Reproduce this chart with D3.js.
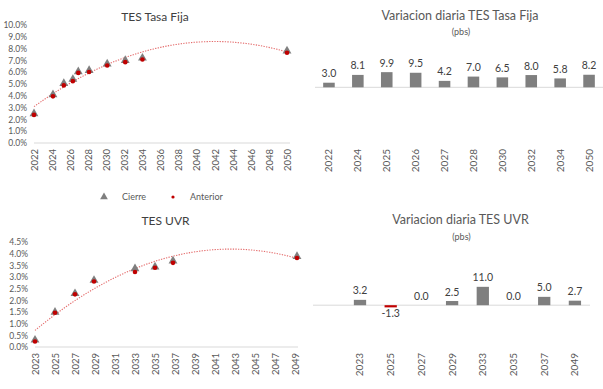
<!DOCTYPE html>
<html>
<head>
<meta charset="utf-8">
<script src="https://cdn.jsdelivr.net/npm/d3@7"></script>
<style>
  body { margin: 0; background: #fff; }
  svg { display: block; }
</style>
</head>
<body>
<svg width="603" height="389"></svg>
<script>
// TES Tasa Fija - curva (anos al vencimiento, tasa %)
const tfYears = [2022.0, 2024.1, 2025.3, 2026.3, 2026.9, 2028.1, 2030.1, 2032.1, 2034.0, 2050.0];
const tfCierre = [2.48, 4.10, 5.05, 5.40, 6.05, 6.15, 6.70, 7.00, 7.20, 7.80];
const tfAnterior = [2.45, 4.02, 4.95, 5.31, 6.01, 6.08, 6.64, 6.92, 7.14, 7.72];
const tfTicksX = d3.range(2022, 2051, 2);
const tfTicksY = d3.range(0, 10.1, 1);

// TES UVR - curva
const uvrYears = [2023.0, 2025.0, 2027.0, 2028.9, 2033.0, 2035.0, 2036.8, 2049.2];
const uvrCierre = [0.30, 1.49, 2.29, 2.86, 3.36, 3.43, 3.69, 3.88];
const uvrAnterior = [0.27, 1.50, 2.29, 2.84, 3.25, 3.43, 3.64, 3.85];
const uvrTicksX = d3.range(2023, 2050, 2);
const uvrTicksY = d3.range(0, 4.51, 0.5);

// variacion diaria (pbs)
const tfCats = ['2022', '2024', '2025', '2026', '2027', '2028', '2030', '2032', '2034', '2050'];
const tfVar = [3.0, 8.1, 9.9, 9.5, 4.2, 7.0, 6.5, 8.0, 5.8, 8.2];
const uvrCats = ['2023', '2025', '2027', '2029', '2033', '2035', '2037', '2049'];
const uvrVar = [3.2, -1.3, 0.0, 2.5, 11.0, 0.0, 5.0, 2.7];

const svg = d3.select('svg');
const fontL = 'Lato, "Open Sans", sans-serif';
const fontR = 'Lato, "Noto Sans", sans-serif';
const grey = '#7f7f7f';
const red = '#c00000';

// least squares polynomial of order 2 (Excel style trendline)
function polyFit(xs, ys) {
  const x0 = d3.mean(xs);
  const u = xs.map((v) => v - x0);
  const S = (p) => d3.sum(u, (v) => Math.pow(v, p));
  const T = (p) => d3.sum(u, (v, i) => Math.pow(v, p) * ys[i]);
  const A = [
    [u.length, S(1), S(2), T(0)],
    [S(1), S(2), S(3), T(1)],
    [S(2), S(3), S(4), T(2)]
  ];
  for (let i = 0; i < 3; i++) {
    for (let j = i + 1; j < 3; j++) {
      const f = A[j][i] / A[i][i];
      for (let k = i; k < 4; k++) A[j][k] -= f * A[i][k];
    }
  }
  const c = [0, 0, 0];
  for (let i = 2; i >= 0; i--) {
    let s = A[i][3];
    for (let k = i + 1; k < 3; k++) s -= A[i][k] * c[k];
    c[i] = s / A[i][i];
  }
  return (x) => c[0] + c[1] * (x - x0) + c[2] * (x - x0) * (x - x0);
}

function curveChart(opt) {
  const x = d3.scaleLinear().domain(opt.xDomain).range(opt.xRange);
  const y = d3.scaleLinear().domain(opt.yDomain).range(opt.yRange);
  const g = svg.append('g');

  g.append('text')
    .attr('x', opt.titleX).attr('y', opt.titleY)
    .attr('text-anchor', 'middle')
    .attr('font-family', fontL).attr('font-size', 12)
    .attr('fill', '#404040')
    .text(opt.title);

  // y labels
  g.append('g')
    .attr('transform', `translate(${opt.xRange[0]},0)`)
    .call(d3.axisLeft(y).tickValues(opt.yTicks).tickFormat((d) => d.toFixed(1) + '%').tickSize(0).tickPadding(7))
    .call((a) => a.select('.domain').remove())
    .call((a) => a.selectAll('text').attr('font-family', fontL).attr('font-size', 8.5).attr('fill', '#595959'));

  // x axis
  const xa = g.append('g')
    .attr('transform', `translate(0,${opt.yRange[0]})`)
    .call(d3.axisBottom(x).tickValues(opt.xTicks).tickFormat(d3.format('d')).tickSize(0));
  xa.select('.domain').attr('stroke', '#d9d9d9').attr('d', `M${opt.xRange[0]},0H${opt.xRange[1] + 3}`);
  xa.selectAll('text')
    .attr('font-family', fontL).attr('font-size', 9.5).attr('fill', '#595959')
    .attr('text-anchor', 'end')
    .attr('transform', 'rotate(-90)')
    .attr('x', -6).attr('y', 0).attr('dy', '0.35em');

  // trendline
  const fit = polyFit(opt.years, opt.cierre);
  const tx = d3.range(opt.xDomain[0], opt.xDomain[1] + 0.01, 0.25);
  g.append('path')
    .attr('d', d3.line().x((d) => x(d)).y((d) => y(fit(d)))(tx))
    .attr('fill', 'none')
    .attr('stroke', '#e46c6c')
    .attr('stroke-width', 1.1)
    .attr('stroke-dasharray', '1.3,1.3');

  const tri = d3.symbol().type(d3.symbolTriangle).size(34);
  g.selectAll('path.cierre').data(opt.years).join('path')
    .attr('class', 'cierre')
    .attr('d', tri)
    .attr('transform', (d, i) => `translate(${x(d)},${y(opt.cierre[i])})`)
    .attr('fill', grey);

  g.selectAll('circle.ant').data(opt.years).join('circle')
    .attr('class', 'ant')
    .attr('cx', (d) => x(d))
    .attr('cy', (d, i) => y(opt.anterior[i]) + 0.8)
    .attr('r', 2.3)
    .attr('fill', red);
}

curveChart({
  title: 'TES Tasa Fija', titleX: 155, titleY: 20.5,
  xDomain: [2022, 2050], xRange: [34, 287],
  yDomain: [0, 10], yRange: [143, 25],
  xTicks: tfTicksX, yTicks: tfTicksY,
  years: tfYears, cierre: tfCierre, anterior: tfAnterior
});

curveChart({
  title: 'TES UVR', titleX: 165.5, titleY: 225,
  xDomain: [2023, 2049], xRange: [35, 295],
  yDomain: [0, 4.5], yRange: [347, 242],
  xTicks: uvrTicksX, yTicks: uvrTicksY,
  years: uvrYears, cierre: uvrCierre, anterior: uvrAnterior
});

// legend
const lg = svg.append('g').attr('font-family', fontL).attr('font-size', 9).attr('fill', '#595959');
lg.append('path').attr('d', d3.symbol().type(d3.symbolTriangle).size(26)()).attr('transform', 'translate(104,197)').attr('fill', grey);
lg.append('text').attr('x', 122).attr('y', 200).text('Cierre');
lg.append('circle').attr('cx', 173).attr('cy', 197).attr('r', 1.6).attr('fill', red);
lg.append('text').attr('x', 190).attr('y', 200).text('Anterior');

function barChart(opt) {
  const x = d3.scaleBand().domain(opt.cats).range(opt.xRange).paddingInner(0.6).paddingOuter(opt.po);
  const y = d3.scaleLinear().domain([0, 10]).range([opt.base, opt.base - opt.pxPer10]);
  const g = svg.append('g');

  g.append('text')
    .attr('x', opt.titleX).attr('y', opt.titleY)
    .attr('text-anchor', 'middle')
    .attr('font-family', fontR).attr('font-size', 12.5)
    .attr('fill', '#595959')
    .text(opt.title);
  g.append('text')
    .attr('x', opt.titleX + 1).attr('y', opt.titleY + 15.5)
    .attr('text-anchor', 'middle')
    .attr('font-family', fontR).attr('font-size', 9)
    .attr('fill', '#595959')
    .text('(pbs)');

  g.append('line')
    .attr('x1', opt.lineX[0]).attr('x2', opt.lineX[1])
    .attr('y1', y(0)).attr('y2', y(0))
    .attr('stroke', '#d9d9d9');

  g.selectAll('rect').data(opt.values).join('rect')
    .attr('x', (d, i) => x(opt.cats[i]))
    .attr('width', x.bandwidth())
    .attr('y', (d) => y(Math.max(0, d)))
    .attr('height', (d) => Math.abs(y(d) - y(0)))
    .attr('fill', (d) => (d < 0 ? red : grey));

  g.selectAll('text.val').data(opt.values).join('text')
    .attr('class', 'val')
    .attr('x', (d, i) => x(opt.cats[i]) + x.bandwidth() / 2)
    .attr('y', (d) => (d < 0 ? y(d) + 10 : y(d) - 5.5))
    .attr('text-anchor', 'middle')
    .attr('font-family', fontR).attr('font-size', 10.5)
    .attr('fill', '#404040')
    .text((d) => d.toFixed(1));

  g.append('g')
    .attr('transform', `translate(0,${opt.labelY})`)
    .call(d3.axisBottom(x).tickSize(0))
    .call((a) => a.select('.domain').remove())
    .call((a) => a.selectAll('text')
      .attr('font-family', fontR).attr('font-size', 10).attr('fill', '#595959')
      .attr('text-anchor', 'end')
      .attr('transform', 'rotate(-90)')
      .attr('x', 0).attr('y', 0).attr('dy', '0.35em'));
}

barChart({
  title: 'Variacion diaria TES Tasa Fija', titleX: 460, titleY: 19.5,
  cats: tfCats, values: tfVar,
  xRange: [314.5, 603.5], po: 0.3,
  base: 87.3, pxPer10: 15.3, lineX: [315, 603], labelY: 149
});

barChart({
  title: 'Variacion diaria TES UVR', titleX: 460.5, titleY: 224,
  cats: uvrCats, values: uvrVar,
  xRange: [338.5, 596.4], po: 0.5,
  base: 305.2, pxPer10: 16.7, lineX: [313, 590], labelY: 353
});
</script>
</body>
</html>
